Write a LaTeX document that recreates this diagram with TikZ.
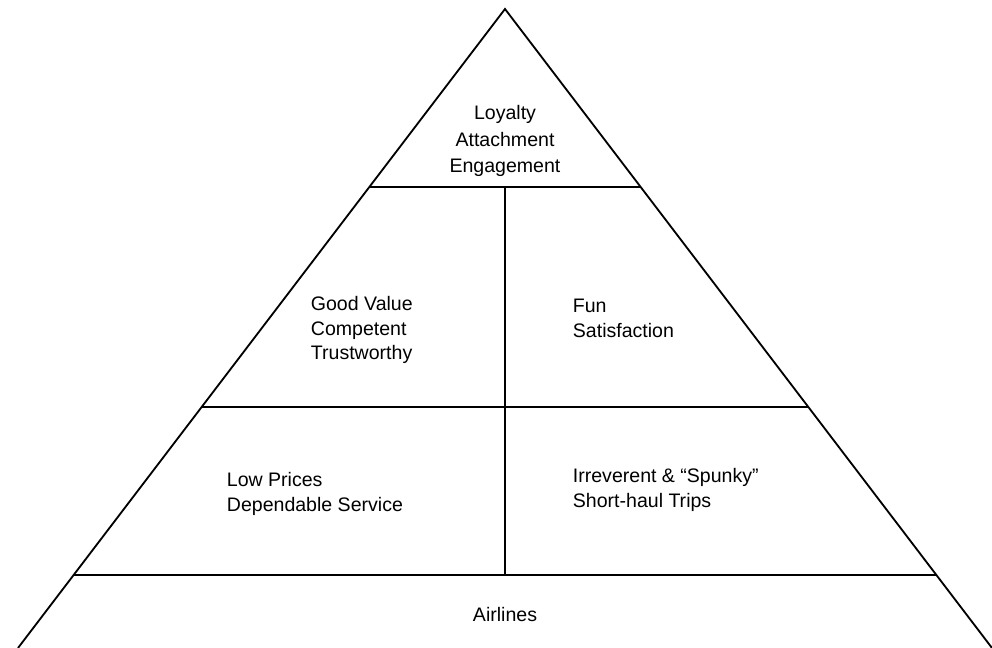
\documentclass[tikz,border=0pt]{standalone}
\usepackage{fontspec}
\setmainfont{Liberation Sans}
\usetikzlibrary{positioning, calc}

\begin{document}
\begin{tikzpicture}[x=0.025cm,y=-0.025cm,line width=1.3pt,
        tier text/.style={font=\fontsize{13.9}{17.6}\selectfont,align=left,inner sep=0pt}]
        \useasboundingbox (0,0) rectangle (992,648);
        \coordinate (top) at (505,9);
        \coordinate (bl) at (18,648);
        \coordinate (br) at (992,648);
        \coordinate (l1) at ($(top)!0.2786!(bl)$);
        \coordinate (r1) at ($(top)!0.2786!(br)$);
        \coordinate (l2) at ($(top)!0.6228!(bl)$);
        \coordinate (r2) at ($(top)!0.6228!(br)$);
        \coordinate (l3) at ($(top)!0.8858!(bl)$);
        \coordinate (r3) at ($(top)!0.8858!(br)$);
        \coordinate (m1) at ($(l1)!0.5!(r1)$);
        \coordinate (m3) at ($(l3)!0.5!(r3)$);

        \draw (bl) -- (top) -- (br);
        \draw (l1) -- (r1);
        \draw (l2) -- (r2);
        \draw (l3) -- (r3);
        \draw (m1) -- (m3);

        \node[tier text,align=center] (loyalty) at (505,141) {Loyalty\\[1.5pt]Attachment\\[1.5pt]Engagement};
        \node[tier text,anchor=west] (value) at (310,330) {Good Value\\Competent\\Trustworthy};
        \node[tier text,anchor=west] (fun) at (572,318) {Fun\\Satisfaction};
        \node[tier text,anchor=west] (prices) at (226,494) {Low Prices\\Dependable Service};
        \node[tier text,anchor=west] (spunky) at (572,490) {Irreverent \& “Spunky”\\Short-haul Trips};
        \node[tier text] (airlines) at (505,615) {Airlines};
\end{tikzpicture}
\end{document}
